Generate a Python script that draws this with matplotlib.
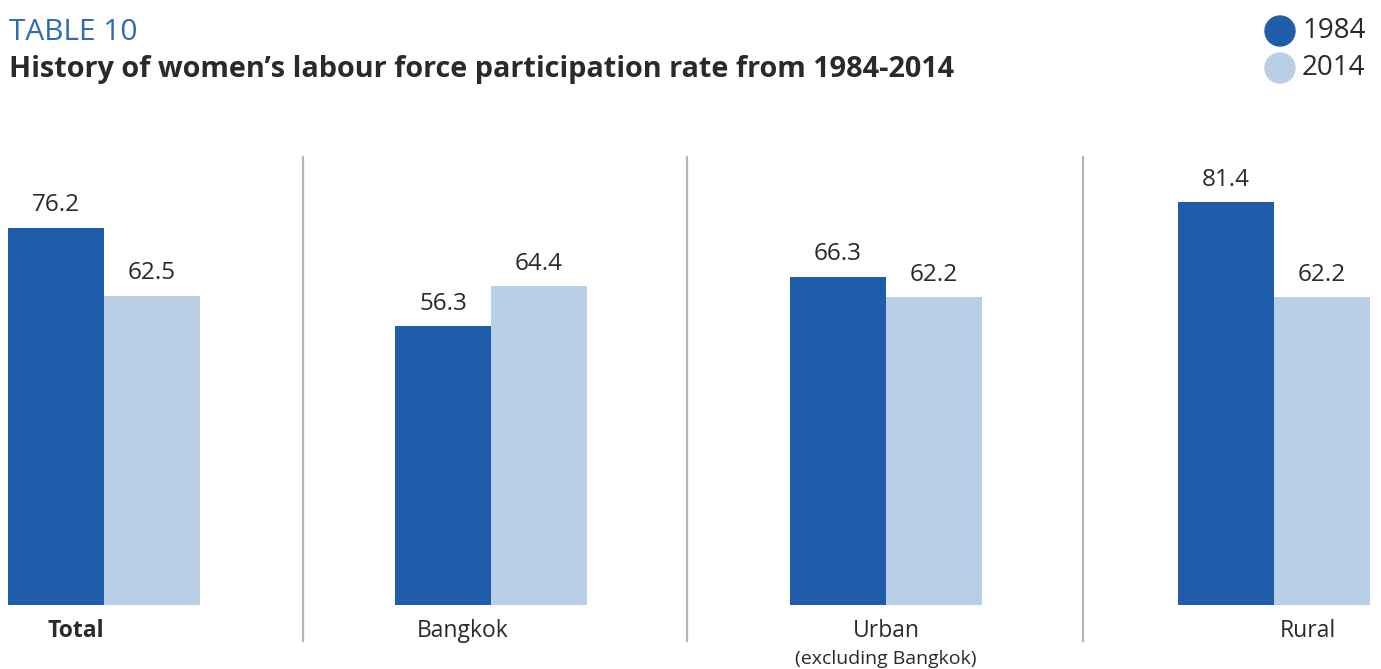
import matplotlib
matplotlib.use('Agg')
import matplotlib.pyplot as plt
from matplotlib.lines import Line2D
from matplotlib.patches import Ellipse

plt.rcParams['font.family'] = ['Open Sans', 'DejaVu Sans']

#chart data
categories = ['Total', 'Bangkok', 'Urban', 'Rural']
sub_labels = ['', '', '(excluding Bangkok)', '']
years = ['1984', '2014']
vals_1984 = [76.2, 56.3, 66.3, 81.4]
vals_2014 = [62.5, 64.4, 62.2, 62.2]

DARK = '#1f5dab'
LIGHT = '#b9cfe6'
TXT = '#2a2a2a'
W, H = 1381, 669

fig = plt.figure(figsize=(W / 100, H / 100), dpi=100)

#axes in pixel-like units on x, value 0 sits at y=605px, 100 at y=110px
ax = fig.add_axes([0, (H - 605) / H, 1, 495 / H])
ax.set_xlim(0, W)
ax.set_ylim(0, 100)
ax.axis('off')

centers = [104, 491, 886, 1274]
bw = 96
for c, v1, v2 in zip(centers, vals_1984, vals_2014):
    for x, v, col in [(c - bw / 2, v1, DARK), (c + bw / 2, v2, LIGHT)]:
        ax.bar(x, v, width=bw, color=col, linewidth=0)
        ax.annotate(f'{v:.1f}', (x, v), xytext=(0, 7.5), textcoords='offset points',
                    ha='center', va='bottom', fontsize=17.5, color=TXT)

def fx(px):
    return px / W

def fy(py):
    return 1 - py / H

#separators
for sx in [303, 687, 1083]:
    fig.add_artist(Line2D([fx(sx), fx(sx)], [fy(157), fy(641)], color='#b5b5b5', lw=1.6))

#category labels
label_x = [76, 463, 886, 1308]
for lx, cat, sub in zip(label_x, categories, sub_labels):
    fig.text(fx(lx), fy(631), cat, ha='center', va='center', fontsize=16.5,
             color=TXT, fontweight='bold' if cat == 'Total' else 'normal')
    if sub:
        fig.text(fx(lx), fy(659), sub, ha='center', va='center', fontsize=14,
                 color=TXT)

#titles
fig.text(fx(9), fy(33), 'TABLE 10', ha='left', va='center', fontsize=21.5,
         color='#2e6db4')
fig.text(fx(9), fy(70), "History of women\u2019s labour force participation rate from 1984-2014",
         ha='left', va='center', fontsize=20.8, color=TXT, fontweight='bold')

#legend
for i, (yr, col) in enumerate(zip(years, [DARK, LIGHT])):
    cy = 31 + i * 37
    fig.add_artist(Ellipse((fx(1280), fy(cy)), 30 / W, 30 / H, color=col,
                           transform=fig.transFigure))
    fig.text(fx(1302), fy(cy), yr, ha='left', va='center', fontsize=20, color=TXT)

fig.savefig('out.png', dpi=100)
